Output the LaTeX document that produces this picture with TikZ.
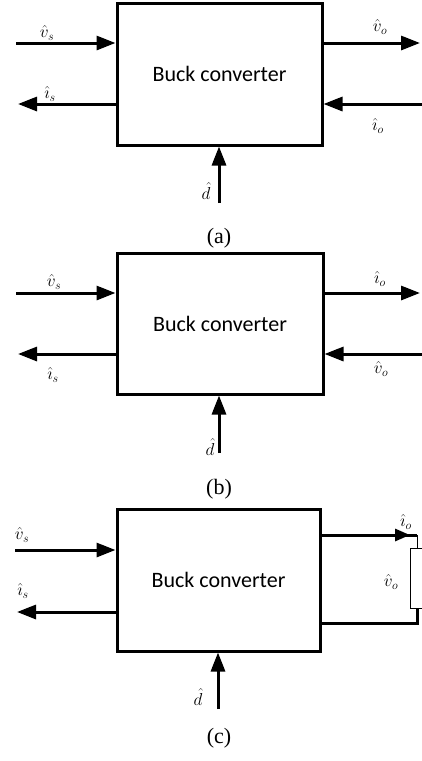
\documentclass[tikz,border=0pt]{standalone}
\usepackage{fontspec}
\newfontfamily\boxfont{Carlito}
\newfontfamily\capfont{Liberation Serif}
\usetikzlibrary{arrows.meta}
\tikzset{
  conv/.style={draw, line width=3pt, inner sep=0pt, font=\boxfont\fontsize{22}{24}\selectfont},
  sig/.style={line width=3pt, -{Triangle[length=19pt,width=14pt]}},
  wire/.style={line width=3pt},
  thinwire/.style={line width=1pt},
  lbl/.style={inner sep=0pt, font=\fontsize{17}{19}\selectfont},
  capt/.style={inner sep=0pt, font=\capfont\fontsize{22}{24}\selectfont}
}
\begin{document}
\begin{tikzpicture}[x=1pt,y=-1pt]
\useasboundingbox (0,0) rectangle (421,761);
% ---------- (a)
\node[conv, minimum width=205pt, minimum height=142pt] (A) at (219.5,74) {Buck converter};
\coordinate (a1) at (16,43);
\coordinate (a2) at (18,104);
\coordinate (a3) at (420,43);
\coordinate (a4) at (422,104);
\coordinate (a5) at (219,203);
\draw[sig] (a1) -- (a1 -| A.west);
\draw[sig] (a2 -| A.west) -- (a2);
\draw[sig] (a3 -| A.east) -- (a3);
\draw[sig] (a4) -- (a4 -| A.east);
\draw[sig] (a5) -- (a5 |- A.south);
\node[lbl] (avs) at (47,33) {$\hat{v}_s$};
\node[lbl] (ais) at (50,94) {$\hat{\imath}_s$};
\node[lbl] (avo) at (380,27) {$\hat{v}_o$};
\node[lbl] (aio) at (378,126) {$\hat{\imath}_o$};
\node[lbl] (ad) at (206,191) {$\hat{d}$};
\node[capt] (capa) at (219,238) {(a)};
% ---------- (b)
\node[conv, minimum width=206pt, minimum height=141pt] (B) at (220,323.5) {Buck converter};
\coordinate (b1) at (16,293);
\coordinate (b2) at (18,354);
\coordinate (b3) at (420,293);
\coordinate (b4) at (422,354);
\coordinate (b5) at (219,453);
\draw[sig] (b1) -- (b1 -| B.west);
\draw[sig] (b2 -| B.west) -- (b2);
\draw[sig] (b3 -| B.east) -- (b3);
\draw[sig] (b4) -- (b4 -| B.east);
\draw[sig] (b5) -- (b5 |- B.south);
\node[lbl] (bvs) at (54,282) {$\hat{v}_s$};
\node[lbl] (bis) at (53,375) {$\hat{\imath}_s$};
\node[lbl] (bio) at (380,279) {$\hat{\imath}_o$};
\node[lbl] (bvo) at (381,369) {$\hat{v}_o$};
\node[lbl] (bd) at (210,447) {$\hat{d}$};
\node[capt] (capb) at (219,489) {(b)};
% ---------- (c)
\node[conv, minimum width=203pt, minimum height=142pt] (C) at (218.5,580) {Buck converter};
\coordinate (c1) at (15,550);
\coordinate (c2) at (17,612);
\coordinate (c3) at (417,535);
\coordinate (c3t) at (410,535);
\coordinate (c4) at (417,623);
\coordinate (c5) at (218,709);
\draw[sig] (c1) -- (c1 -| C.west);
\draw[sig] (c2 -| C.west) -- (c2);
\draw[wire] (c3 -| C.east) -- (c3);
\draw[line width=3pt, -{Triangle[length=15pt,width=12pt]}] (c3 -| C.east) -- (c3t);
\node[draw, thinwire, minimum width=14pt, minimum height=60pt, inner sep=0pt, anchor=north] (R) at (417,548) {};
\draw[thinwire] (c3) -- (R.north);
\draw[wire] (R.south) -- (c4) -- (c4 -| C.east);
\draw[sig] (c5) -- (c5 |- C.south);
\node[lbl] (cvs) at (22,535) {$\hat{v}_s$};
\node[lbl] (cis) at (23,591) {$\hat{\imath}_s$};
\node[lbl] (cio) at (406,522) {$\hat{\imath}_o$};
\node[lbl] (cvo) at (391,582) {$\hat{v}_o$};
\node[lbl] (cd) at (198,697) {$\hat{d}$};
\node[capt] (capc) at (219,738) {(c)};
\end{tikzpicture}
\end{document}
